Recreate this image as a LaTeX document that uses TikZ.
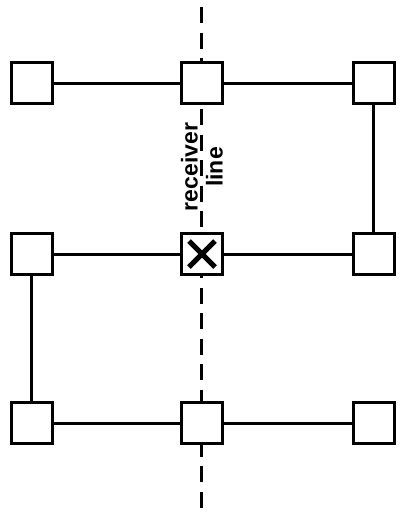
\documentclass[tikz,border=0pt]{standalone}
\usepackage{fontspec}
\setmainfont{Liberation Sans}
\begin{document}
\begin{tikzpicture}[x=1pt, y=-1pt, line width=3pt, line join=miter,
  station/.style={draw, fill=white, minimum size=41pt, inner sep=0pt},
  source/.style={station, path picture={
      \draw[line width=5pt] ([xshift=-13pt,yshift=-13pt]path picture bounding box.center) -- ([xshift=13pt,yshift=13pt]path picture bounding box.center);
      \draw[line width=5pt] ([xshift=-13pt,yshift=13pt]path picture bounding box.center) -- ([xshift=13pt,yshift=-13pt]path picture bounding box.center);}}]
  \useasboundingbox (0,0) rectangle (403,515);

  % receiver line
  \coordinate (rtop) at (201.5,7);
  \coordinate (rbot) at (201.5,508);
  \draw[dash pattern=on 16pt off 9.5pt] (rtop) -- (rbot);
  \node[rotate=90, align=center, font=\bfseries\fontsize{23}{25}\selectfont] (rlabel) at (202,167) {receiver\\line};

  % stations
  \node[station] (a1) at (31.5,83) {};
  \node[station] (a2) at (202,83) {};
  \node[station] (a3) at (373.5,83) {};
  \node[station] (b1) at (31.5,254) {};
  \node[source]  (b2) at (202,254) {};
  \node[station] (b3) at (373.5,254) {};
  \node[station] (c1) at (31.5,423) {};
  \node[station] (c2) at (202,423) {};
  \node[station] (c3) at (373.5,423) {};

  \draw (a1) -- (a2) -- (a3) -- (b3) -- (b2) -- (b1) -- (c1) -- (c2) -- (c3);
\end{tikzpicture}
\end{document}
